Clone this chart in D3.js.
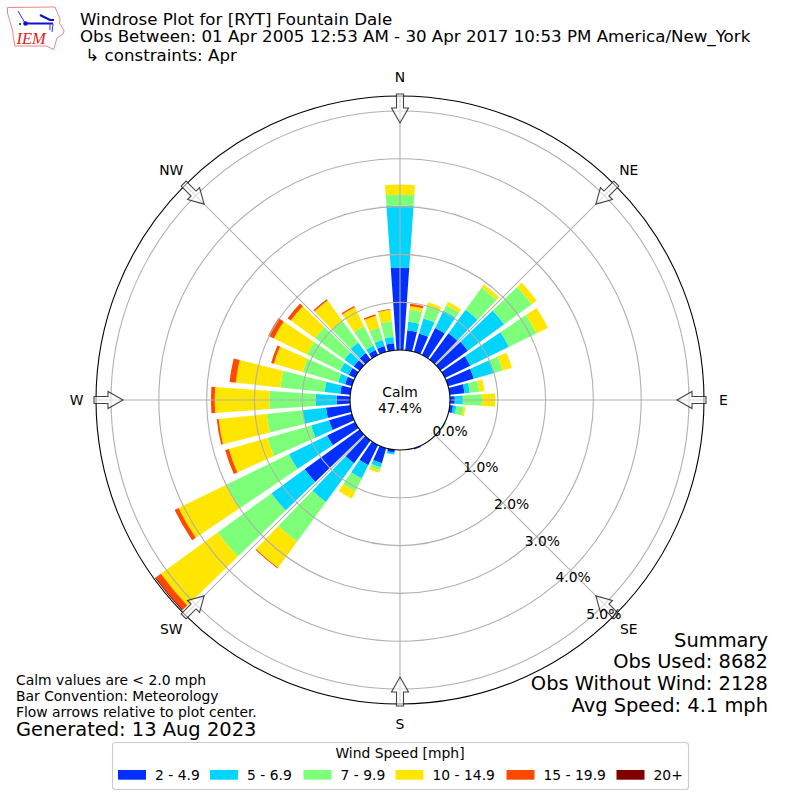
<!DOCTYPE html>
<html><head><meta charset="utf-8">
<style>html,body{margin:0;padding:0;background:#fff}svg{display:block}text{font-family:"DejaVu Sans",sans-serif;fill:#000}</style>
<script src="https://cdn.jsdelivr.net/npm/d3@7"></script>
</head><body><div id="c"></div>
<script>
const directions = [0,10,20,30,40,50,60,70,80,90,100,110,120,130,140,150,160,170,180,190,200,210,220,230,240,250,260,270,280,290,300,310,320,330,340,350];
const speed2to5  = [1.72,.42,.40,.63,.68,.71,.59,.56,.31,.10,.07,0,.01,0,0,0,.03,0,0,.06,.33,.47,.59,1.42,.65,.50,.51,.28,.21,.15,.15,.15,.17,.12,.13,.15];
const speed5to7  = [1.30,.18,.33,.40,.61,.94,.90,.43,.11,.17,.07,0,.015,0,0,0,0,0,0,.04,.09,.31,1.00,.86,.89,.39,.49,.44,.33,.15,.20,.24,.27,.10,.13,.13];
const speed7to10 = [.23,.25,.27,.13,.57,.71,.64,.20,.20,.40,.15,0,.01,0,0,0,0,0,0,0,.06,.30,1.03,1.39,1.47,.95,.76,.97,.93,.77,.77,.76,.56,.45,.27,.33];
const speed10to15= [.21,.08,.08,.08,.08,.13,.27,.20,.11,.28,.04,0,0,0,0,0,0,0,0,0,.06,.17,.67,1.47,1.10,.84,1.01,1.14,.94,.63,.77,.63,.53,.44,.26,.24];
const speed15to20= [0,.05,0,0,0,0,0,0,0,0,0,0,0,0,0,0,0,0,0,0,0,0,.02,.13,.09,.08,.04,.08,.13,.06,.13,.08,.02,.03,.03,.02];
const speed20up  = [0,0,0,0,0,0,0,0,0,0,0,0,0,0,0,0,0,0,0,0,0,0,0,.02,0,0,0,0,0,0,0,0,.01,0,0,0];
const speedLabels = ["2 - 4.9","5 - 6.9","7 - 9.9","10 - 14.9","15 - 19.9","20+"];
const speedColors = ["#0030ff","#00d4ff","#7dff7a","#ffe600","#ff4800","#800000"];
const rTicks = [0,1,2,3,4,5];
const compass = ["N","NE","E","SE","S","SW","W","NW"];
const titleLines = ["Windrose Plot for [RYT] Fountain Dale","Obs Between: 01 Apr 2005 12:53 AM - 30 Apr 2017 10:53 PM America/New_York"," ↳ constraints: Apr"];
const summaryLines = ["Summary","Obs Used: 8682","Obs Without Wind: 2128","Avg Speed: 4.1 mph"];
const noteLines = ["Calm values are < 2.0 mph","Bar Convention: Meteorology","Flow arrows relative to plot center."];

const svg = d3.select("#c").append("svg").attr("width",800).attr("height",800);
const cx=400, cy=400;
const r = d3.scaleLinear().domain([0,5.314]).range([50,304]);
const ang = d3.scaleLinear().domain([0,360]).range([0,2*Math.PI]);
const barWidth = ang(8);
const keys = speedLabels;
const rows = directions.map((d,i)=>({dir:d,[keys[0]]:speed2to5[i],[keys[1]]:speed5to7[i],[keys[2]]:speed7to10[i],[keys[3]]:speed10to15[i],[keys[4]]:speed15to20[i],[keys[5]]:speed20up[i]}));
const stacked = d3.stack().keys(keys)(rows);
const color = d3.scaleOrdinal(keys,speedColors);
const g = svg.append("g").attr("transform",`translate(${cx},${cy})`);
const arc = d3.arc();
g.append("g").selectAll("g").data(stacked).join("g").attr("fill",s=>color(s.key))
 .selectAll("path").data(s=>s.filter(p=>p[1]>p[0])).join("path")
 .attr("d",p=>arc({innerRadius:r(p[0]),outerRadius:r(p[1]),startAngle:ang(p.data.dir)-barWidth/2,endAngle:ang(p.data.dir)+barWidth/2}));

const grid = g.append("g").attr("fill","none").attr("stroke","#b0b0b0").attr("stroke-width",1.1);
grid.selectAll("circle").data(rTicks.slice(1)).join("circle").attr("r",d=>r(d));
const spokes = d3.range(8).map(i=>i*45);
const pt=(deg,rad)=>[rad*Math.sin(ang(deg)),-rad*Math.cos(ang(deg))];
grid.selectAll("line").data(spokes).join("line")
 .attr("x1",d=>pt(d,50)[0]).attr("y1",d=>pt(d,50)[1]).attr("x2",d=>pt(d,304)[0]).attr("y2",d=>pt(d,304)[1]);

g.append("circle").attr("r",304).attr("fill","none").attr("stroke","#000").attr("stroke-width",1.1);
g.append("circle").attr("r",50).attr("fill","#fff").attr("stroke","#000").attr("stroke-width",1.1);

// flow arrows
const arrow = [[-3.5,-306],[3.5,-306],[3.5,-292],[8.5,-292],[0,-277],[-8.5,-292],[-3.5,-292]];
g.append("g").selectAll("path").data(spokes).join("path")
 .attr("d","M"+arrow.map(p=>p.join(",")).join("L")+"Z")
 .attr("transform",d=>`rotate(${d})`)
 .attr("fill","#fff").attr("fill-opacity",.55).attr("stroke","#222").attr("stroke-opacity",.85).attr("stroke-width",1.1);

// labels
g.append("g").selectAll("text").data(spokes).join("text")
 .attr("x",d=>pt(d,323.5)[0]).attr("y",d=>pt(d,323.5)[1]-(d===45||d===315?1.5:0)).attr("dy","0.36em")
 .attr("text-anchor","middle").attr("font-size",13.89).text((d,i)=>compass[i]);
g.append("g").selectAll("text").data(rTicks).join("text")
 .attr("x",d=>pt(140,r(d))[0]+18).attr("y",d=>pt(140,r(d))[1]-7.5).attr("dy","0.36em")
 .attr("text-anchor","middle").attr("font-size",13.89).text(d=>d.toFixed(1)+"%");
g.append("text").attr("y",-8).attr("dy","0.36em").attr("text-anchor","middle").attr("font-size",13.89).text("Calm");
g.append("text").attr("y",8).attr("dy","0.36em").attr("text-anchor","middle").attr("font-size",13.89).text("47.4%");

// title
svg.append("g").selectAll("text").data(titleLines).join("text")
 .attr("x",80).attr("y",(d,i)=>[25,42,61][i]).attr("font-size",16.67).style("white-space","pre").text(d=>d);

// summary and notes
svg.append("g").selectAll("text").data(summaryLines).join("text")
 .attr("x",768).attr("y",(d,i)=>646.5+i*21.7).attr("text-anchor","end").attr("font-size",19.44).text(d=>d);
svg.append("g").selectAll("text").data(noteLines).join("text")
 .attr("x",16).attr("y",(d,i)=>685+i*16).attr("font-size",13.89).text(d=>d);
svg.append("text").attr("x",16).attr("y",735.5).attr("font-size",19.44).text("Generated: 13 Aug 2023");

// legend
const lg = svg.append("g");
lg.append("rect").attr("x",112.5).attr("y",742.5).attr("width",576).attr("height",47).attr("rx",3).attr("fill","#fff").attr("stroke","#ccc").attr("stroke-width",1.1);
lg.append("text").attr("x",400).attr("y",758).attr("text-anchor","middle").attr("font-size",13.89).text("Wind Speed [mph]");
const swatchX = d3.scaleOrdinal(keys,[118,210,303.5,395.5,506.5,616.5]);
lg.selectAll("rect.s").data(keys).join("rect").attr("class","s").attr("x",d=>swatchX(d)).attr("y",770).attr("width",28).attr("height",9.7).attr("fill",d=>color(d));
lg.selectAll("text.l").data(keys).join("text").attr("class","l").attr("x",d=>swatchX(d)+37).attr("y",779.5).attr("font-size",13.89).text(d=>d);

// IEM logo
const logo = svg.append("g");
logo.append("path").attr("d","M7.5,7.5L55,7L57.5,13L60,18.5L59.5,23.5L64,30L63.5,33.5L57,38L55,45L53.5,49.5L46.5,46L15,46L13.5,38.5L12.5,30L9.5,20L7.5,13Z")
 .attr("fill","#fff").attr("stroke","#e77").attr("stroke-width",.9);
logo.append("path").attr("d","M25,23.5L53,23.5").attr("fill","none").attr("stroke","#11c").attr("stroke-width",2);
logo.append("path").attr("d","M40,15L50,20L54,20").attr("fill","none").attr("stroke","#11c").attr("stroke-width",2.2);
logo.append("path").attr("d","M18,11L25,23M50,23L50,30M53,24L52,32").attr("fill","none").attr("stroke","#33c").attr("stroke-width",1);
logo.append("circle").attr("cx",25.5).attr("cy",23.5).attr("r",2.3).attr("fill","#11c");
logo.append("circle").attr("cx",20).attr("cy",24).attr("r",1.1).attr("fill","#11c");
logo.append("text").attr("x",16.5).attr("y",44).style("font-family","'Liberation Serif',serif").style("font-style","italic").style("fill","#d22").attr("font-size",16.5).text("IEM");
</script></body></html>
